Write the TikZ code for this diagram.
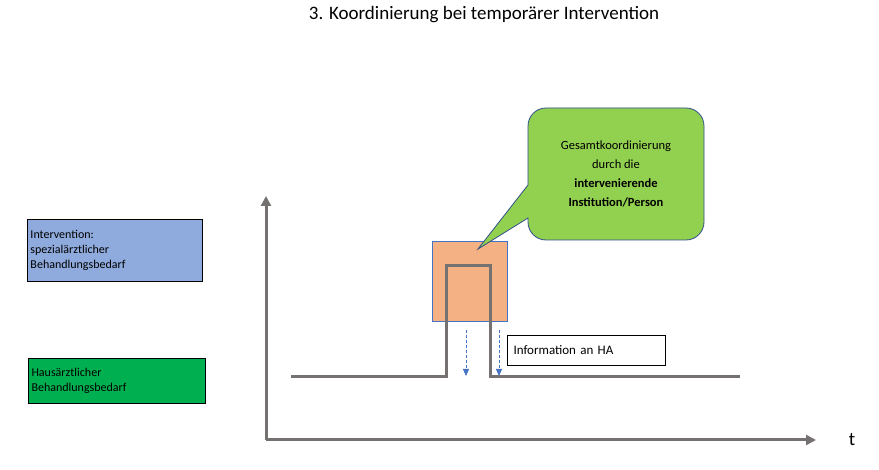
\documentclass[tikz,border=0pt]{standalone}
\usepackage{fontspec}
\setmainfont{Carlito}
\usetikzlibrary{positioning,arrows.meta}
\definecolor{axisgray}{HTML}{767171}
\definecolor{intblue}{HTML}{8FAADC}
\definecolor{hagreen}{HTML}{00B050}
\definecolor{boxorange}{HTML}{F4B183}
\definecolor{calloutgreen}{HTML}{92D050}
\definecolor{linkblue}{HTML}{4472C4}
\tikzset{
  levelbox/.style={draw=black, line width=1pt, align=left, anchor=north west, inner sep=3pt,
    font=\fontsize{12}{15}\selectfont, text width=#1},
  signal/.style={draw=axisgray, line width=3pt},
  infoarrow/.style={draw=linkblue, densely dashed, line width=0.8pt, -{Triangle[length=7pt,width=6pt]}}
}
\begin{document}
\begin{tikzpicture}[x=1pt, y=-1pt]
  \useasboundingbox (0,0) rectangle (879,470);
  \node (title) at (484,15) {\fontsize{19}{22}\selectfont 3. Koordinierung bei temporärer Intervention};
  % levels
  \node (interv) [levelbox=169pt, fill=intblue, minimum height=62pt] at (27,219)
    {Intervention:\\spezialärztlicher\\Behandlungsbedarf};
  \node (haus) [levelbox=171pt, fill=hagreen, minimum height=45pt] at (28,358)
    {Hausärztlicher\\Behandlungsbedarf};
  % axes
  \coordinate (origin) at (266,440);
  \coordinate (yend) at (266,196);
  \coordinate (xend) at (816,440);
  \draw[signal, -{Triangle[length=10pt,width=10pt]}] (origin) -- (yend);
  \draw[signal, -{Triangle[length=10pt,width=10pt]}] (origin) -- (xend);
  \node (t) at (852,440) {\fontsize{19}{22}\selectfont t};
  % intervention
  \node (care) [draw=linkblue, line width=0.8pt, fill=boxorange, minimum width=75pt, minimum height=80pt,
    anchor=north west, inner sep=0pt] at (432,241) {};
  \coordinate (s0) at (291,377);
  \coordinate (s1) at (446,377);
  \coordinate (s2) at (446,266);
  \coordinate (s3) at (490,266);
  \coordinate (s4) at (490,377);
  \coordinate (s5) at (740,377);
  \draw[signal] (s0) -- (s1) -- (s2) -- (s3) -- (s4) -- (s5);
  \coordinate (a1) at (466,330);
  \coordinate (b1) at (466,376);
  \coordinate (a2) at (499,330);
  \coordinate (b2) at (499,376);
  \draw[infoarrow] (a1) -- (b1);
  \draw[infoarrow] (a2) -- (b2);
  \node (info) [draw=black, line width=1pt, minimum width=158pt, minimum height=30pt, anchor=north west,
    font=\fontsize{13}{15}\selectfont, text width=146pt, align=left] at (507,335) {Information an HA};
  % callout
  \coordinate (tip) at (478,249);
  \draw[draw=linkblue!70!black, line width=0.8pt, fill=calloutgreen]
    (528,185) [rounded corners=18pt] -- (528,108) -- (704,108) -- (704,240) -- (528,240)
    [sharp corners] -- (528,218) -- (tip) -- cycle;
  \node (coord) [align=center, font=\fontsize{12.5}{19}\selectfont] at (616,174)
    {Gesamtkoordinierung\\durch die\\\textbf{intervenierende}\\\textbf{Institution/Person}};
\end{tikzpicture}
\end{document}
